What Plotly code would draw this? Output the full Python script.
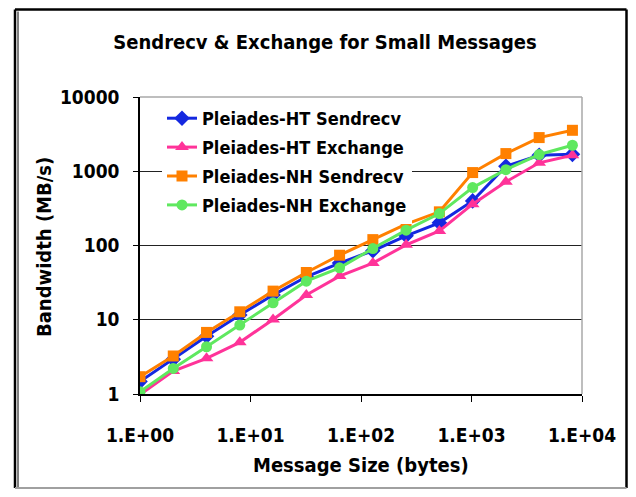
import plotly.graph_objects as go

sizes = [1, 2, 4, 8, 16, 32, 64, 128, 256, 512, 1024, 2048, 4096, 8192]
ht_sendrecv = [1.47, 2.93, 6.0, 11.6, 21.5, 37.9, 58, 85, 135, 202, 399, 1170, 1640, 1690]
ht_exchange = [0.98, 2.04, 3.02, 4.96, 10.1, 21.5, 38.7, 58, 102, 157, 360, 720, 1300, 1640]
nh_sendrecv = [1.71, 3.25, 6.75, 12.8, 24.3, 43.3, 74, 120, 194, 284, 960, 1730, 2840, 3560]
nh_exchange = [1.07, 2.21, 4.33, 8.48, 16.9, 33.1, 50, 91, 161, 269, 603, 1050, 1680, 2240]

series_names = ["Pleiades-HT Sendrecv", "Pleiades-HT Exchange",
                "Pleiades-NH Sendrecv", "Pleiades-NH Exchange"]
x_tickvals = [1, 10, 100, 1000, 10000]
x_ticktext = ["1.E+00", "1.E+01", "1.E+02", "1.E+03", "1.E+04"]
y_tickvals = [1, 10, 100, 1000, 10000]
y_ticktext = ["1", "10", "100", "1000", "10000"]

FONT = "DejaVu Sans Condensed, Liberation Sans Narrow, DejaVu Sans, sans-serif"

styles = [
    dict(color="#1428e0", symbol="diamond", size=12),
    dict(color="#ff3399", symbol="triangle-up", size=12),
    dict(color="#ff8000", symbol="square", size=11),
    dict(color="#5fe85f", symbol="circle", size=11),
]
data = [ht_sendrecv, ht_exchange, nh_sendrecv, nh_exchange]

fig = go.Figure()
for i, (name, ys, st) in enumerate(zip(series_names, data, styles)):
    fig.add_trace(go.Scatter(
        x=sizes, y=ys, name=name, mode="lines+markers",
        line=dict(color=st["color"], width=3),
        marker=dict(color=st["color"], symbol=st["symbol"], size=st["size"]),
        legendgroup=f"g{i}",
    ))

OFF = 8  # page body margin
W, H = 636 - 2 * OFF, 497 - 2 * OFF
# screen-space plot box
SL, SR, ST, SB = 140, 582, 97, 394
L, R, T, B = SL - OFF, W - (SR - OFF), ST - OFF, H - (SB - OFF)
pw, ph = W - L - R, H - T - B

def px(x):  # screen x -> paper
    return (x - SL) / pw

def py(y):  # screen y -> paper
    return (SB - y) / ph

# frame edges in screen coordinates (clamped to the figure area)
FL, FR, FT, FB = 15, OFF + W - 1.5, OFF + 1.5, OFF + H - 1

shapes = [
    dict(type="line", xref="paper", yref="paper", x0=0, x1=1, y0=1, y1=1,
         line=dict(color="#a8a8a8", width=1.5), layer="above"),
    dict(type="line", xref="paper", yref="paper", x0=1, x1=1, y0=0, y1=1,
         line=dict(color="#a8a8a8", width=1.5), layer="above"),
    dict(type="line", xref="paper", yref="paper", x0=px(FL), x1=px(FR), y0=py(FT), y1=py(FT),
         line=dict(color="black", width=2.5)),
    dict(type="line", xref="paper", yref="paper", x0=px(FR), x1=px(FR), y0=py(FT), y1=py(FB),
         line=dict(color="black", width=2.5)),
    dict(type="line", xref="paper", yref="paper", x0=px(FL), x1=px(FL), y0=py(FT), y1=py(FB),
         line=dict(color="black", width=2.5)),
    dict(type="line", xref="paper", yref="paper", x0=px(FL + 3), x1=px(FL + 3), y0=py(FT + 2), y1=py(FB),
         line=dict(color="black", width=1)),
    dict(type="line", xref="paper", yref="paper", x0=px(FL), x1=px(FR), y0=py(FB), y1=py(FB),
         line=dict(color="#a0a0a0", width=2)),
]

annotations = [
    dict(text="Message Size (bytes)", xref="paper", yref="paper",
         x=px(361), y=py(465), xanchor="center", yanchor="middle", showarrow=False,
         font=dict(family=FONT, size=20, color="black", weight="bold")),
    dict(text="Bandwidth (MB/s)", xref="paper", yref="paper", textangle=-90,
         x=px(44), y=py(247), xanchor="center", yanchor="middle", showarrow=False,
         font=dict(family=FONT, size=20, color="black", weight="bold")),
]

fig.update_layout(
    width=W, height=H,
    margin=dict(l=L, r=R, t=T, b=B),
    paper_bgcolor="white", plot_bgcolor="white",
    font=dict(family=FONT, size=18, color="black", weight="bold"),
    title=dict(text="Sendrecv & Exchange for Small Messages",
               x=(325 - OFF) / W, xanchor="center", y=1 - (42 - OFF) / H, yanchor="middle",
               font=dict(family=FONT, size=20, color="black", weight="bold")),
    xaxis=dict(type="log", range=[0, 4], tickvals=x_tickvals, ticktext=x_ticktext,
               showgrid=False, zeroline=False, showline=True, linecolor="black", linewidth=1.5,
               ticks="outside", ticklen=6, tickcolor="black", tickwidth=1,
               ticklabelstandoff=17,
               tickfont=dict(family=FONT, size=19, color="black", weight="bold")),
    yaxis=dict(type="log", range=[0, 4], tickvals=y_tickvals, ticktext=y_ticktext,
               showgrid=True, gridcolor="#222222", gridwidth=1, zeroline=False,
               showline=True, linecolor="black", linewidth=1.5,
               ticks="outside", ticklen=5, tickcolor="black", tickwidth=1,
               ticklabelstandoff=10,
               tickfont=dict(family=FONT, size=19, color="black", weight="bold")),
    legend=dict(x=px(162), y=py(100), xanchor="left", yanchor="top",
                bgcolor="white", borderwidth=0, traceorder="grouped",
                tracegroupgap=2.5,
                font=dict(family=FONT, size=18, color="black", weight="bold")),
    shapes=shapes,
    annotations=annotations,
)

fig.write_html("out.html")
